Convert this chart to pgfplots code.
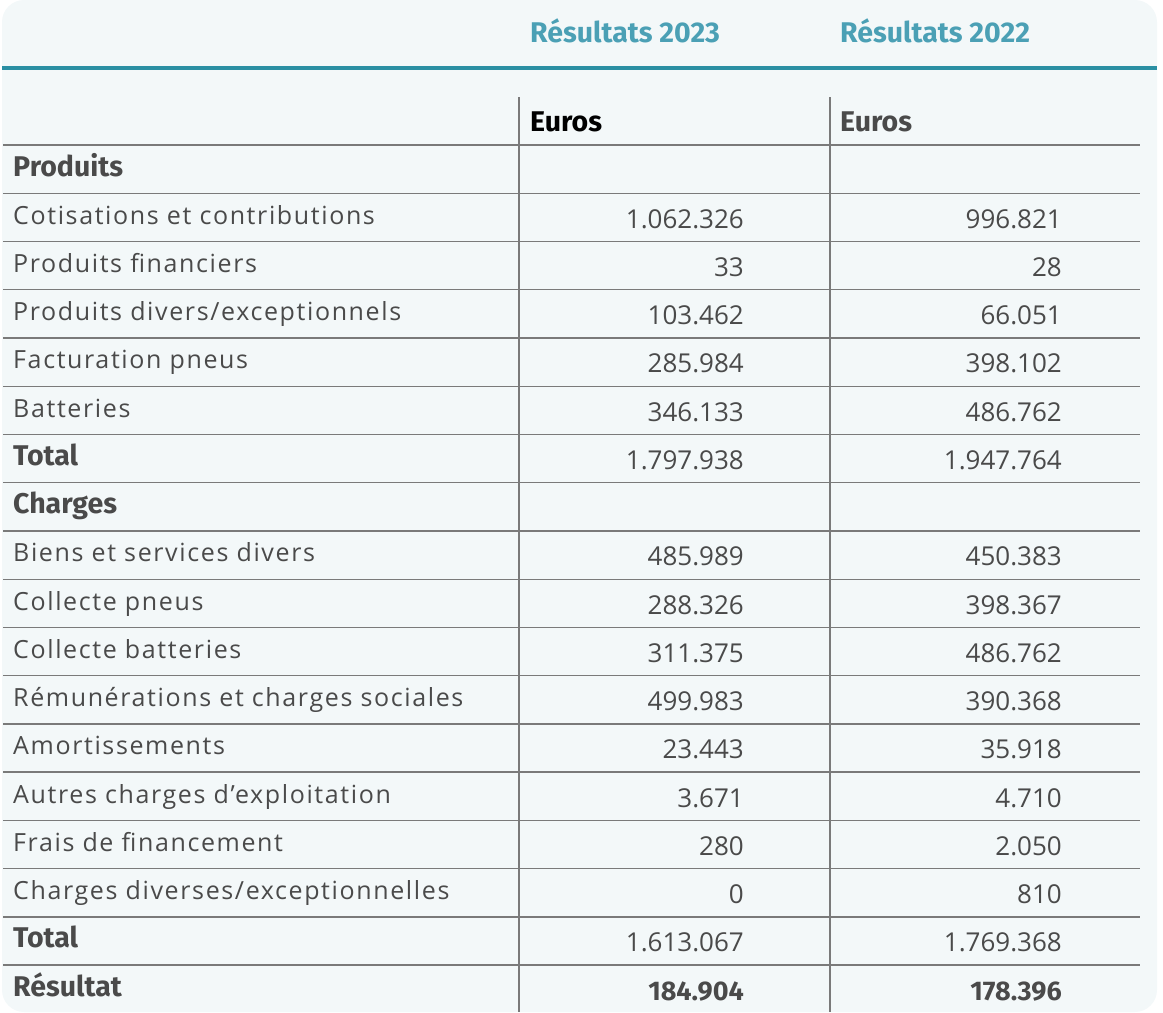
\documentclass[border=0pt]{standalone}
\usepackage{fontspec}
\usepackage{pgfplots}
\usepackage{pgfplotstable}
\pgfplotsset{compat=1.18}
\setmainfont{Open Sans}[LetterSpace=6.5]
\newfontfamily\boldfont{Fira Sans}[BoldFont={Fira Sans Bold}]
\newfontfamily\numfont{Open Sans}
\definecolor{cardbg}{HTML}{F3F8F9}
\definecolor{tealline}{HTML}{2A8FA3}
\definecolor{tealtxt}{HTML}{4BA0B5}
\definecolor{gridc}{HTML}{7A7A7A}
\definecolor{txt}{HTML}{4A4A4A}

% r = row index (0 = Produits)
\pgfplotstableread[col sep=ampersand,row sep=\\]{
r & label & v23 & v22\\
1 & Cotisations et contributions & 1062326 & 996821\\
2 & Produits financiers & 33 & 28\\
3 & Produits divers/exceptionnels & 103462 & 66051\\
4 & Facturation pneus & 285984 & 398102\\
5 & Batteries & 346133 & 486762\\
8 & Biens et services divers & 485989 & 450383\\
9 & Collecte pneus & 288326 & 398367\\
10 & Collecte batteries & 311375 & 486762\\
11 & Rémunérations et charges sociales & 499983 & 390368\\
12 & Amortissements & 23443 & 35918\\
13 & Autres charges d’exploitation & 3671 & 4710\\
14 & Frais de financement & 280 & 2050\\
15 & Charges diverses/exceptionnelles & 0 & 810\\
}\regular
\pgfplotstableread[col sep=ampersand,row sep=\\]{
r & label & v23 & v22\\
6 & Total & 1797938 & 1947764\\
16 & Total & 1613067 & 1769368\\
}\totals
\pgfplotstableread[col sep=ampersand,row sep=\\]{
r & label\\
0 & Produits\\
7 & Charges\\
}\sections
\pgfplotstableread[col sep=ampersand,row sep=\\]{
r & label & v23 & v22\\
17 & Résultat & 184904 & 178396\\
}\result

\pgfplotsset{
  lbl/.style={draw=none, mark=none, point meta=explicit symbolic,
    nodes near coords={\pgfplotspointmeta},
    every node near coord/.append style={anchor=base west, inner sep=0pt, text=txt}},
  num/.style={draw=none, mark=none, point meta=explicit,
    nodes near coords={\pgfmathprintnumber[fixed,precision=0,1000 sep={.},assume math mode=true]{\pgfplotspointmeta}},
    every node near coord/.append style={anchor=base east, inner sep=0pt, text=txt}},
}
\newcommand{\rowtop}{145}
\newcommand{\rowh}{48.24}
\newcommand{\bfnt}{\boldfont\bfseries\fontsize{28.5}{32}\selectfont}

\begin{document}
\begin{tikzpicture}
\begin{axis}[
  width=1163pt, height=1012pt, scale only axis,
  xmin=0, xmax=1163, ymin=0, ymax=1012, y dir=reverse,
  hide axis, clip=false,
]
% card
\path (axis cs:0,0) rectangle (axis cs:1163,1012);
\fill[cardbg, rounded corners=22pt] (axis cs:2,0) rectangle (axis cs:1157,1012);
% teal rule
\draw[tealline, line width=4pt] (axis cs:2,68) -- (axis cs:1157,68);
% grid lines
\pgfplotsinvokeforeach{0,...,17}{
  \draw[gridc, line width=1.3pt] (axis cs:3,{\rowtop+\rowh*#1}) -- (axis cs:1140,{\rowtop+\rowh*#1});
}
\draw[gridc, line width=1.3pt] (axis cs:519,97) -- (axis cs:519,1012);
\draw[gridc, line width=1.3pt] (axis cs:830,97) -- (axis cs:830,1012);
% headers
\node[anchor=base west, inner sep=0pt, text=tealtxt, font=\bfnt] at (axis cs:530,42) {Résultats 2023};
\node[anchor=base west, inner sep=0pt, text=tealtxt, font=\bfnt] at (axis cs:840,42) {Résultats 2022};
\node[anchor=base west, inner sep=0pt, text=black, font=\bfnt] at (axis cs:530,131) {Euros};
\node[anchor=base west, inner sep=0pt, text=txt, font=\bfnt] at (axis cs:840,131) {Euros};

% labels
\addplot[lbl, every node near coord/.append style={font=\fontsize{25}{28}\selectfont}]
  table[x expr=13, y expr={\rowtop+\rowh*\thisrow{r}+31}, meta=label] {\regular};
\addplot[lbl, every node near coord/.append style={font=\bfnt}]
  table[x expr=13, y expr={\rowtop+\rowh*\thisrow{r}+31}, meta=label] {\totals};
\addplot[lbl, every node near coord/.append style={font=\bfnt}]
  table[x expr=13, y expr={\rowtop+\rowh*\thisrow{r}+31}, meta=label] {\sections};
\addplot[lbl, every node near coord/.append style={font=\bfnt}]
  table[x expr=13, y expr={\rowtop+\rowh*\thisrow{r}+31}, meta=label] {\result};

% values
\addplot[num, every node near coord/.append style={font=\numfont\fontsize{26}{30}\selectfont}]
  table[x expr=744, y expr={\rowtop+\rowh*\thisrow{r}+35}, meta=v23] {\regular};
\addplot[num, every node near coord/.append style={font=\numfont\fontsize{26}{30}\selectfont}]
  table[x expr=1062, y expr={\rowtop+\rowh*\thisrow{r}+35}, meta=v22] {\regular};
\addplot[num, every node near coord/.append style={font=\numfont\fontsize{26}{30}\selectfont}]
  table[x expr=744, y expr={\rowtop+\rowh*\thisrow{r}+35}, meta=v23] {\totals};
\addplot[num, every node near coord/.append style={font=\numfont\fontsize{26}{30}\selectfont}]
  table[x expr=1062, y expr={\rowtop+\rowh*\thisrow{r}+35}, meta=v22] {\totals};
\addplot[num, every node near coord/.append style={font=\boldfont\bfseries\fontsize{27}{30}\selectfont}]
  table[x expr=744, y expr={\rowtop+\rowh*\thisrow{r}+35}, meta=v23] {\result};
\addplot[num, every node near coord/.append style={font=\boldfont\bfseries\fontsize{27}{30}\selectfont}]
  table[x expr=1062, y expr={\rowtop+\rowh*\thisrow{r}+35}, meta=v22] {\result};
\end{axis}
\end{tikzpicture}
\end{document}
